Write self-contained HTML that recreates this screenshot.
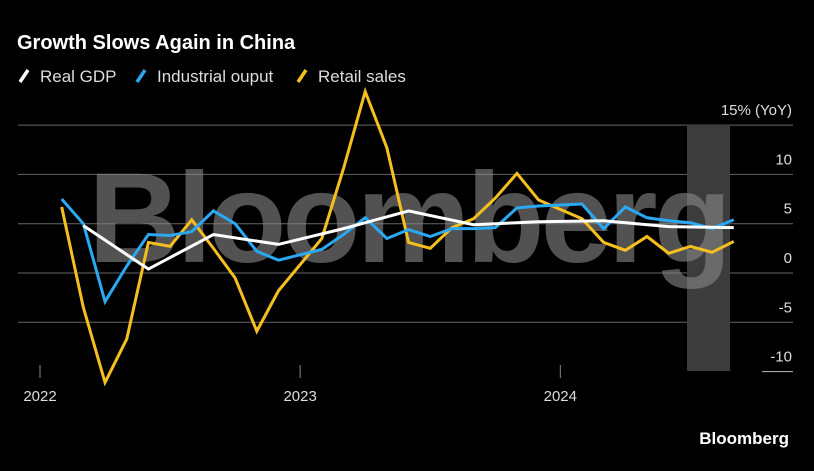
<!DOCTYPE html>
<html><head><meta charset="utf-8"><style>
body{margin:0;background:#000;width:814px;height:466px;overflow:hidden;font-family:"Liberation Sans",sans-serif}
</style></head><body>
<svg width="814" height="466" xmlns="http://www.w3.org/2000/svg">
<rect width="814" height="466" fill="#000"/>
<text x="17" y="49" fill="#fff" font-size="20" font-weight="bold">Growth Slows Again in China</text>
<g font-size="17" fill="#ddd">
<g><line x1="20" y1="82" x2="28" y2="70" stroke="#fff" stroke-width="3.5"/><text x="40" y="82">Real GDP</text></g>
<g><line x1="137" y1="82" x2="145" y2="70" stroke="#2aa8f2" stroke-width="3.5"/><text x="157" y="82">Industrial ouput</text></g>
<g><line x1="298" y1="82" x2="306" y2="70" stroke="#f5bf1f" stroke-width="3.5"/><text x="318" y="82">Retail sales</text></g>
</g>
<g id="grid"></g>
<rect x="687" y="125" width="43" height="246" fill="#3c3c3c"/>
<text x="408" y="262" text-anchor="middle" font-size="128" font-weight="bold" fill="#888" fill-opacity="0.6" letter-spacing="-4">Bloomberg</text>
<g id="series"></g>
<g id="xaxis"></g>
<text x="789" y="444" text-anchor="end" fill="#fff" font-size="17" font-weight="bold">Bloomberg</text>
</svg>
<script>
const yTicks=[15,10,5,0,-5,-10];
const yLabels=["15% (YoY)","10","5","0","-5","-10"];
const xYears=["2022","2023","2024"];
const retailMonths=[1,2,3,4,5,6,7,8,9,10,11,13,14,15,16,17,18,19,20,21,22,23,25,26,27,28,29,30,31,32];
const retail=[6.7,-3.5,-11.1,-6.7,3.1,2.7,5.4,2.5,-0.5,-5.9,-1.8,3.5,10.6,18.4,12.7,3.1,2.5,4.6,5.5,7.6,10.1,7.4,5.5,3.1,2.3,3.7,2.0,2.7,2.1,3.2];
const indMonths=retailMonths;
const industrial=[7.5,5.0,-2.9,0.7,3.9,3.8,4.2,6.3,5.0,2.2,1.3,2.4,3.9,5.6,3.5,4.4,3.7,4.5,4.5,4.6,6.6,6.8,7.0,4.5,6.7,5.6,5.3,5.1,4.5,5.4];
const gdpMonths=[2,5,8,11,14,17,20,23,26,29,32];
const gdp=[4.8,0.4,3.9,2.9,4.5,6.3,4.9,5.2,5.3,4.7,4.6];
const NS="http://www.w3.org/2000/svg";
const y=v=>273-v*9.86;
const x=m=>40+m*21.68;
const grid=document.getElementById('grid');
yTicks.forEach((t,i)=>{
 const l=document.createElementNS(NS,'line');
 
 
 l.setAttribute('x1',t===-10?762:18);l.setAttribute('x2',793);
 l.setAttribute('y1',y(t));l.setAttribute('y2',y(t));
 l.setAttribute('stroke',t===-10?'#bbb':'#666');l.setAttribute('stroke-width',1);
 grid.appendChild(l);
 const tx=document.createElementNS(NS,'text');
 
 
 tx.setAttribute('x',792);tx.setAttribute('y',y(t)-10);
 tx.setAttribute('text-anchor','end');tx.setAttribute('fill','#ddd');tx.setAttribute('font-size','15');
 tx.textContent=yLabels[i];grid.appendChild(tx);
});
const xa=document.getElementById('xaxis');
xYears.forEach((yr,i)=>{
 const px=x(i*12);
 const l=document.createElementNS(NS,'line');
 
 
 l.setAttribute('x1',px);l.setAttribute('x2',px);l.setAttribute('y1',365);l.setAttribute('y2',378);
 l.setAttribute('stroke','#888');xa.appendChild(l);
 const tx=document.createElementNS(NS,'text');
 
 
 tx.setAttribute('x',px);tx.setAttribute('y',401);tx.setAttribute('text-anchor','middle');
 tx.setAttribute('fill','#ddd');tx.setAttribute('font-size','15');tx.textContent=yr;xa.appendChild(tx);
});
const sg=document.getElementById('series');
function line(ms,vs,color,name){
 const p=document.createElementNS(NS,'polyline');
 
 
 p.setAttribute('points',ms.map((m,i)=>x(m)+','+y(vs[i])).join(' '));
 p.setAttribute('fill','none');p.setAttribute('stroke',color);p.setAttribute('stroke-width',3);
 p.setAttribute('stroke-linejoin','miter');
 sg.appendChild(p);
}
line(retailMonths,retail,'#f5bf1f','retail-sales-line');
line(indMonths,industrial,'#2aa8f2','industrial-output-line');
line(gdpMonths,gdp,'#ffffff','real-gdp-line');
</script>
</body></html>
